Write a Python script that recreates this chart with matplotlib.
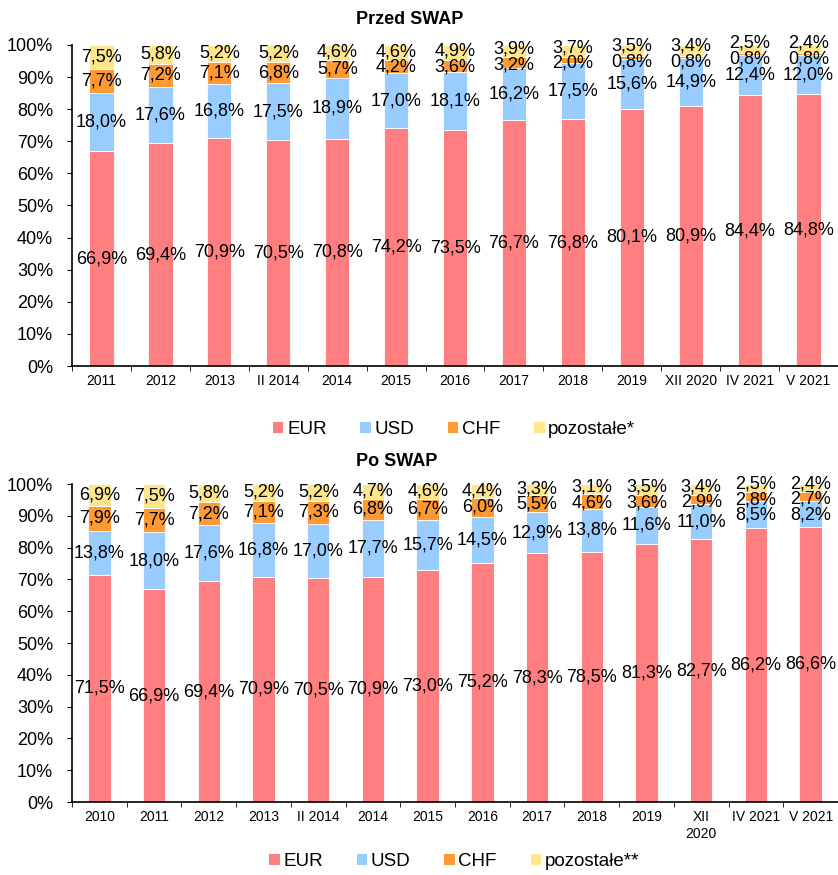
import numpy as np
import matplotlib
matplotlib.use("Agg")
import matplotlib.pyplot as plt
from matplotlib.patches import Patch

plt.rcParams["font.family"] = ["Liberation Sans", "DejaVu Sans"]

# ─── Data ─────────────────────────────────────────────────────────────────────

series_names = ["EUR", "USD", "CHF"]
colors = ["#FF7F80", "#99CCFF", "#FF9933", "#FFE68C"]

cats_before = ["2011", "2012", "2013", "II 2014", "2014", "2015", "2016", "2017",
               "2018", "2019", "XII 2020", "IV 2021", "V 2021"]
eur_before = [66.9, 69.4, 70.9, 70.5, 70.8, 74.2, 73.5, 76.7, 76.8, 80.1, 80.9, 84.4, 84.8]
usd_before = [18.0, 17.6, 16.8, 17.5, 18.9, 17.0, 18.1, 16.2, 17.5, 15.6, 14.9, 12.4, 12.0]
chf_before = [7.7, 7.2, 7.1, 6.8, 5.7, 4.2, 3.6, 3.2, 2.0, 0.8, 0.8, 0.8, 0.8]
oth_before = [7.5, 5.8, 5.2, 5.2, 4.6, 4.6, 4.9, 3.9, 3.7, 3.5, 3.4, 2.5, 2.4]

cats_after = ["2010", "2011", "2012", "2013", "II 2014", "2014", "2015", "2016", "2017",
              "2018", "2019", "XII\n2020", "IV 2021", "V 2021"]
eur_after = [71.5, 66.9, 69.4, 70.9, 70.5, 70.9, 73.0, 75.2, 78.3, 78.5, 81.3, 82.7, 86.2, 86.6]
usd_after = [13.8, 18.0, 17.6, 16.8, 17.0, 17.7, 15.7, 14.5, 12.9, 13.8, 11.6, 11.0, 8.5, 8.2]
chf_after = [7.9, 7.7, 7.2, 7.1, 7.3, 6.8, 6.7, 6.0, 5.5, 4.6, 3.6, 2.9, 2.8, 2.7]
oth_after = [6.9, 7.5, 5.8, 5.2, 5.2, 4.7, 4.6, 4.4, 3.3, 3.1, 3.5, 3.4, 2.5, 2.4]


def fmt(v):
    return f"{v:.1f}".replace(".", ",") + "%"


def spread(pos, gap=4.9, n_iter=60):
    """Push label centres apart so neighbours keep a minimum gap."""
    pos = list(pos)
    for _ in range(n_iter):
        for i in range(len(pos) - 1):
            d = pos[i + 1] - pos[i]
            if d < gap:
                shift = (gap - d) / 2
                pos[i] -= shift
                pos[i + 1] += shift
    return pos


def stacked(ax, cats, stacks):
    x = np.arange(len(cats))
    data = np.array(stacks)
    bottoms = np.vstack([np.zeros(len(cats)), np.cumsum(data, axis=0)[:-1]])
    for vals, bot, col in zip(data, bottoms, colors):
        ax.bar(x, vals, bottom=bot, width=0.41, color=col,
               edgecolor="white", linewidth=0.6)

    for j in range(len(cats)):
        centres = bottoms[:, j] + data[:, j] / 2
        for yc, v in zip(spread(centres), data[:, j]):
            ax.text(x[j], yc, fmt(v), ha="center", va="center",
                    fontsize=13, color="black")

    ax.set_xlim(-0.5, len(cats) - 0.5)
    ax.set_ylim(0, 100)
    ax.set_yticks(np.arange(0, 101, 10))
    ax.set_yticklabels([f"{t}%" for t in range(0, 101, 10)], fontsize=13)
    ax.set_xticks(x)
    ax.set_xticklabels(cats, fontsize=10)
    ax.set_xticks(np.arange(-0.5, len(cats), 1), minor=True)
    ax.tick_params(axis="x", which="major", length=0, pad=6)
    ax.tick_params(axis="x", which="minor", length=3.6, direction="out")
    ax.tick_params(axis="y", length=3.6, direction="out", pad=10)
    for s in ["top", "right"]:
        ax.spines[s].set_visible(False)
    ax.spines["left"].set_linewidth(1.2)
    ax.spines["bottom"].set_linewidth(1.2)


fig = plt.figure(figsize=(8.38, 8.75), dpi=100)
ax1 = fig.add_axes([0.086, 0.5817, 0.914, 0.3669])
ax2 = fig.add_axes([0.086, 0.0834, 0.914, 0.3634])

stacked(ax1, cats_before, [eur_before, usd_before, chf_before, oth_before])
stacked(ax2, cats_after, [eur_after, usd_after, chf_after, oth_after])

fig.text(410 / 838, 1 - 20 / 875, "Przed SWAP", ha="center", va="center",
         fontsize=13, fontweight="bold")
fig.text(397 / 838, 1 - 462 / 875, "Po SWAP", ha="center", va="center",
         fontsize=13, fontweight="bold")

for names, yc in [(series_names + ["pozostałe*"], 0.5086),
                  (series_names + ["pozostałe**"], 0.0149)]:
    handles = [Patch(facecolor=c, edgecolor="none") for c in colors]
    fig.legend(handles, names, loc="center", bbox_to_anchor=(0.542, yc), ncol=4,
               frameon=False, fontsize=13.5, handlelength=0.55, handleheight=0.55,
               handletextpad=0.2, columnspacing=1.8)

fig.savefig("out.png", dpi=100)
